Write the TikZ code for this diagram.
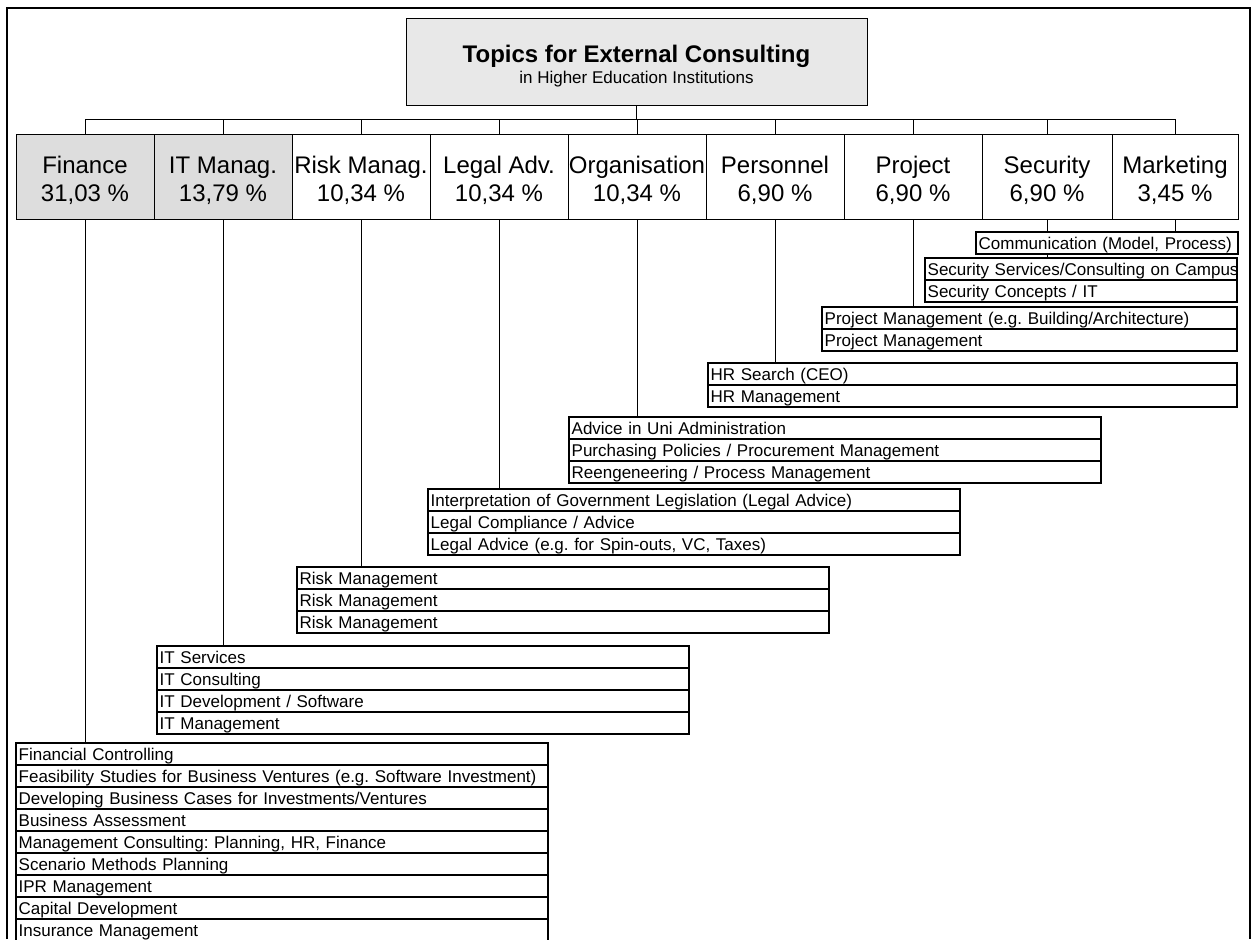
\documentclass[tikz,border=0pt]{standalone}
\usepackage{fontspec}
\setmainfont{Liberation Sans}
\usetikzlibrary{positioning}
\definecolor{headgray}{HTML}{E8E8E8}
\definecolor{catgray}{HTML}{DDDDDD}
\frenchspacing
\tikzset{
  cat/.style={draw, line width=0.75pt, outer sep=0pt, inner sep=0pt, minimum width=#1, minimum height=63.75pt, text height=38pt, text depth=1.25pt, align=center, font=\fontsize{18}{21}\selectfont},
  cat/.default=103.5pt,
  topic/.style={draw, fill=white, line width=1.5pt, outer sep=0pt, inner xsep=2pt, inner ysep=0pt, minimum height=16.5pt, text height=10.5pt, text depth=1.5pt, text width=#1, align=left, font=\fontsize{12.75}{15}\selectfont},
  link/.style={line width=0.75pt}
}

\begin{document}
\begin{tikzpicture}[x=0.75pt, y=-0.75pt]
\useasboundingbox (0,0) rectangle (1253,939);
\draw[line width=1.5pt] (7,939) -- (7,8) -- (1250,8) -- (1250,939);

\node[draw, fill=headgray, line width=0.75pt, outer sep=0pt, minimum width=345.75pt, minimum height=65.25pt, text height=33pt, text depth=0.75pt, align=center] (title) at (636.5,61.5)
  {\fontsize{18}{20}\selectfont\bfseries Topics for External Consulting\\[1.5pt]
   \fontsize{12.75}{15}\selectfont in Higher Education Institutions};

% topic areas
\node[cat, fill=catgray, anchor=north west] (fin) at (16,134) {Finance\\31,03 \%};
\node[cat, fill=catgray, right=0pt of fin] (it) {IT Manag.\\13,79 \%};
\node[cat, right=0pt of it] (risk) {Risk Manag.\\10,34 \%};
\node[cat, right=0pt of risk] (legal) {Legal Adv.\\10,34 \%};
\node[cat, right=0pt of legal] (org) {Organisation\\10,34 \%};
\node[cat, right=0pt of org] (pers) {Personnel\\6,90 \%};
\node[cat, right=0pt of pers] (proj) {Project\\6,90 \%};
\node[cat=97.5pt, right=0pt of proj] (sec) {Security\\6,90 \%};
\node[cat=94.5pt, right=0pt of sec] (mkt) {Marketing\\3,45 \%};

\coordinate (bus) at (0,119.5);
\draw[link] (title.south) -- (title.south |- bus);
\draw[link] (fin.north) |- (mkt.north |- bus) -- (mkt.north);
\draw[line width=1.2pt] (it.north |- bus) -- (sec.north |- bus);
\draw[link] (it.north) -- (it.north |- bus);
\draw[link] (risk.north) -- (risk.north |- bus);
\draw[link] (legal.north) -- (legal.north |- bus);
\draw[link] (org.north) -- (org.north |- bus);
\draw[link] (pers.north) -- (pers.north |- bus);
\draw[link] (proj.north) -- (proj.north |- bus);
\draw[link] (sec.north) -- (sec.north |- bus);

% consulting topics
\node[topic=192.5pt, anchor=north west] (com1) at (976,232) {Communication (Model, Process)};

\node[topic=230pt, anchor=north west] (sec1) at (925,258) {\mbox{Security Services/Consulting on Campus}};
\node[topic=230pt, below=0pt of sec1] (sec2) {Security Concepts / IT};

\node[topic=307.25pt, anchor=north west] (proj1) at (822,307) {Project Management (e.g. Building/Architecture)};
\node[topic=307.25pt, below=0pt of proj1] (proj2) {Project Management};

\node[topic=392.75pt, anchor=north west] (pers1) at (708,363) {HR Search (CEO)};
\node[topic=392.75pt, below=0pt of pers1] (pers2) {HR Management};

\node[topic=395pt, anchor=north west] (org1) at (569,417) {Advice in Uni Administration};
\node[topic=395pt, below=0pt of org1] (org2) {Purchasing Policies / Procurement Management};
\node[topic=395pt, below=0pt of org2] (org3) {Reengeneering / Process Management};

\node[topic=395pt, anchor=north west] (legal1) at (428,489) {Interpretation of Government Legislation (Legal Advice)};
\node[topic=395pt, below=0pt of legal1] (legal2) {Legal Compliance / Advice};
\node[topic=395pt, below=0pt of legal2] (legal3) {Legal Advice (e.g. for Spin-outs, VC, Taxes)};

\node[topic=395pt, anchor=north west] (risk1) at (297,567) {Risk Management};
\node[topic=395pt, below=0pt of risk1] (risk2) {Risk Management};
\node[topic=395pt, below=0pt of risk2] (risk3) {Risk Management};

\node[topic=395pt, anchor=north west] (it1) at (157,646) {IT Services};
\node[topic=395pt, below=0pt of it1] (it2) {IT Consulting};
\node[topic=395pt, below=0pt of it2] (it3) {IT Development / Software};
\node[topic=395pt, below=0pt of it3] (it4) {IT Management};

\node[topic=395pt, anchor=north west] (fin1) at (16,743) {Financial Controlling};
\node[topic=395pt, below=0pt of fin1] (fin2) {Feasibility Studies for Business Ventures (e.g. Software Investment)};
\node[topic=395pt, below=0pt of fin2] (fin3) {Developing Business Cases for Investments/Ventures};
\node[topic=395pt, below=0pt of fin3] (fin4) {Business Assessment};
\node[topic=395pt, below=0pt of fin4] (fin5) {Management Consulting: Planning, HR, Finance};
\node[topic=395pt, below=0pt of fin5] (fin6) {Scenario Methods Planning};
\node[topic=395pt, below=0pt of fin6] (fin7) {IPR Management};
\node[topic=395pt, below=0pt of fin7] (fin8) {Capital Development};
\node[topic=395pt, below=0pt of fin8] (fin9) {Insurance Management};

\draw[link] (fin.south) -- (fin.south |- fin1.north);
\draw[link] (it.south) -- (it.south |- it1.north);
\draw[link] (risk.south) -- (risk.south |- risk1.north);
\draw[link] (legal.south) -- (legal.south |- legal1.north);
\draw[link] (org.south) -- (org.south |- org1.north);
\draw[link] (pers.south) -- (pers.south |- pers1.north);
\draw[link] (proj.south) -- (proj.south |- proj1.north);
\draw[link] (sec.south) -- (sec.south |- com1.north);
\draw[link] (sec.south |- com1.south) -- (sec.south |- sec1.north);
\draw[link] (mkt.south) -- (mkt.south |- com1.north);
\end{tikzpicture}
\end{document}
